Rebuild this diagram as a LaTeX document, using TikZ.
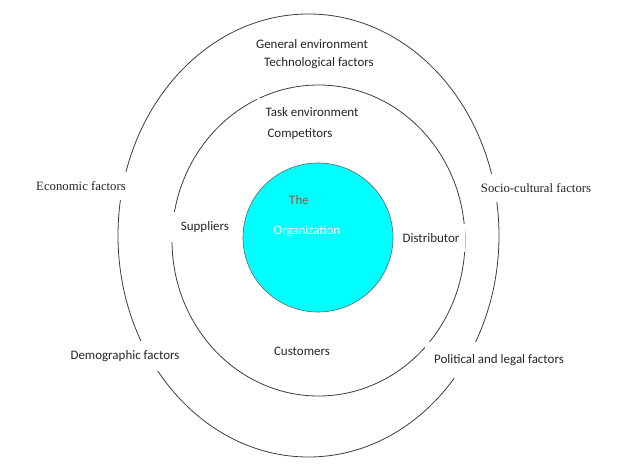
\documentclass[tikz,border=0pt]{standalone}
\usepackage{fontspec}
\setmainfont{Carlito}
\newfontfamily\serifface{Liberation Serif}
\usepackage{tikz}
\definecolor{ring}{HTML}{3C3C3C}
\definecolor{orgfill}{HTML}{00FFFF}
\definecolor{ink}{HTML}{262626}
\newcommand{\lbl}[3]{\node[lbl] (#1) at (#2) {#3};}

\begin{document}
\begin{tikzpicture}[x=1bp,y=-1bp,line cap=round,line join=round,
  lbl/.style={fill=white,inner xsep=9bp,inner ysep=9bp,text=ink,font=\fontsize{13}{13}\selectfont},
  serif lbl/.style={lbl,font=\serifface\fontsize{12.8}{13}\selectfont}]
  \useasboundingbox (0,0) rectangle (624,464);
  % rings
  \draw[ring,line width=0.8pt] (308.5,235.5) ellipse [x radius=190.5,y radius=221.5];
  \draw[ring,line width=0.8pt] (318.5,240.5) ellipse [x radius=146.5,y radius=155.5];
  \filldraw[fill=orgfill,draw=ring!80,line width=0.6pt] (318,237.5) ellipse [x radius=75,y radius=74.5];
  % labels
  \lbl{genenv}{312,44}{General environment}
  \lbl{tech}{319,63}{Technological factors}
  \lbl{taskenv}{312,112}{Task environment}
  \lbl{comp}{300,134}{Competitors}
  \node[serif lbl] (econ) at (81,186) {Economic factors};
  \node[serif lbl] (socio) at (536,188) {Socio-cultural factors};
  \node[lbl,inner xsep=11bp] (supp) at (205,227) {Suppliers};
  \node[lbl,inner xsep=6bp] (dist) at (431,238) {Distributor};
  \lbl{demo}{125,356}{Demographic factors}
  \lbl{cust}{302,351}{Customers}
  \node[lbl,inner ysep=12bp] (polit) at (499,360) {Political and legal factors};
  % inside the organization
  \node[text=brown!70!black,font=\fontsize{13}{13}\selectfont] (the) at (299,200) {The};
  \node[text=white,font=\fontsize{13}{13}\selectfont] (org) at (307,231) {Organization};
\end{tikzpicture}
\end{document}
